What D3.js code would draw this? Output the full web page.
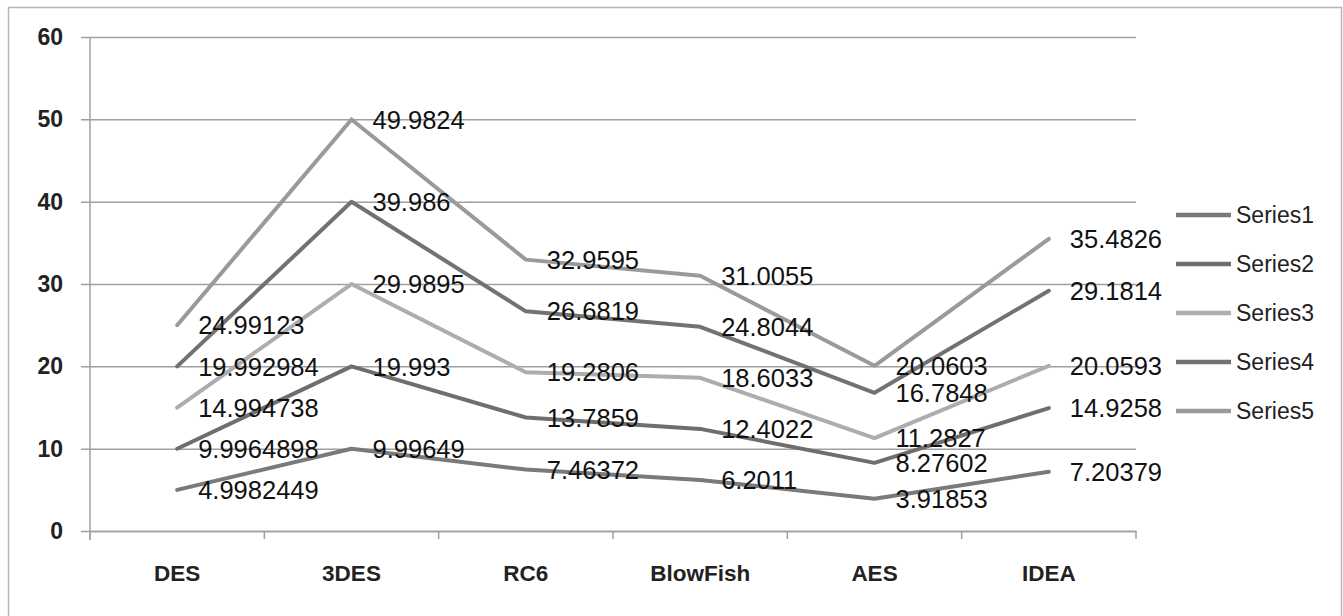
<!DOCTYPE html>
<html>
<head>
<meta charset="utf-8">
<script src="https://cdn.jsdelivr.net/npm/d3@7"></script>
<style>
  html, body { margin: 0; padding: 0; background: #fff; }
  svg { display: block; }
</style>
</head>
<body>
<svg id="chart" width="1343" height="616"></svg>
<script>
const categories = ["DES", "3DES", "RC6", "BlowFish", "AES", "IDEA"];
const seriesNames = ["Series1", "Series2", "Series3", "Series4", "Series5"];
const series1 = [4.9982449, 9.99649, 7.46372, 6.2011, 3.91853, 7.20379];
const series2 = [9.9964898, 19.993, 13.7859, 12.4022, 8.27602, 14.9258];
const series3 = [14.994738, 29.9895, 19.2806, 18.6033, 11.2827, 20.0593];
const series4 = [19.992984, 39.986, 26.6819, 24.8044, 16.7848, 29.1814];
const series5 = [24.99123, 49.9824, 32.9595, 31.0055, 20.0603, 35.4826];
const labels1 = ["4.9982449", "9.99649", "7.46372", "6.2011", "3.91853", "7.20379"];
const labels2 = ["9.9964898", "19.993", "13.7859", "12.4022", "8.27602", "14.9258"];
const labels3 = ["14.994738", "29.9895", "19.2806", "18.6033", "11.2827", "20.0593"];
const labels4 = ["19.992984", "39.986", "26.6819", "24.8044", "16.7848", "29.1814"];
const labels5 = ["24.99123", "49.9824", "32.9595", "31.0055", "20.0603", "35.4826"];
const yTicks = [0, 10, 20, 30, 40, 50, 60];

(function () {
const seriesValues = [series1, series2, series3, series4, series5];
const seriesLabels = [labels1, labels2, labels3, labels4, labels5];
const colors = ["#7a7a7a", "#6e6e6e", "#adadad", "#727272", "#9a9a9a"];

const svg = d3.select("#chart");
const pLeft = 90, pRight = 1136, pTop = 37, pBottom = 531;

// outer border
svg.append("rect").attr("x", 8.5).attr("y", 7.5).attr("width", 1333).attr("height", 620)
  .attr("fill", "none").attr("stroke", "#b5b5b5").attr("stroke-width", 1.5);

const x = d3.scaleBand().domain(categories).range([pLeft, pRight]).padding(0);
const y = d3.scaleLinear().domain([0, 60]).range([pBottom, pTop]);

// gridlines + y axis
const yAxis = d3.axisLeft(y).tickValues(yTicks).tickSize(-(pRight - pLeft)).tickPadding(18);
const gy = svg.append("g").attr("transform", `translate(${pLeft},0)`).call(yAxis);
gy.select(".domain").remove();
gy.selectAll(".tick line").attr("stroke", "#a0a0a0").attr("stroke-width", 1.5).attr("x1", -9);
gy.selectAll(".tick text").attr("font-family", "Liberation Sans, Arial, sans-serif")
  .attr("font-size", 23).attr("font-weight", "bold").attr("fill", "#222").attr("x", -27);

// y axis line
svg.append("line").attr("x1", pLeft).attr("x2", pLeft).attr("y1", pTop).attr("y2", pBottom + 9)
  .attr("stroke", "#a0a0a0").attr("stroke-width", 1.5);

// x axis
const xAxis = d3.axisBottom(x).tickSize(0).tickPadding(34);
const gx = svg.append("g").attr("transform", `translate(0,${pBottom})`).call(xAxis);
gx.select(".domain").attr("stroke", "#a0a0a0").attr("stroke-width", 1.5);
gx.selectAll(".tick text").attr("font-family", "Liberation Sans, Arial, sans-serif")
  .attr("font-size", 22.5).attr("font-weight", "bold").attr("fill", "#222");
// x boundary ticks
const boundaries = categories.map(c => x(c)).concat([x(categories[categories.length - 1]) + x.bandwidth()]);
svg.append("g").selectAll("line").data(boundaries).join("line")
  .attr("x1", d => d).attr("x2", d => d).attr("y1", pBottom).attr("y2", pBottom + 8)
  .attr("stroke", "#a0a0a0").attr("stroke-width", 1.5);

const cx = c => x(c) + x.bandwidth() / 2;
const line = d3.line().x((d, i) => cx(categories[i])).y(d => y(d));

seriesValues.forEach((vals, si) => {
  svg.append("path").datum(vals).attr("d", line).attr("fill", "none")
    .attr("stroke", colors[si]).attr("stroke-width", 4).attr("stroke-linejoin", "round")
    .attr("stroke-linecap", "round");
});

seriesValues.forEach((vals, si) => {
  svg.append("g").selectAll("text").data(vals).join("text")
    .attr("x", (d, i) => cx(categories[i]) + 21)
    .attr("y", d => y(d))
    .attr("dy", "0.36em")
    .attr("font-family", "Liberation Sans, Arial, sans-serif")
    .attr("font-size", 25.5).attr("fill", "#111")
    .text((d, i) => seriesLabels[si][i]);
});

// legend
const lg = svg.append("g");
seriesNames.forEach((name, i) => {
  const ly = 215 + i * 49;
  lg.append("line").attr("x1", 1176).attr("x2", 1231).attr("y1", ly).attr("y2", ly)
    .attr("stroke", colors[i]).attr("stroke-width", 4.5);
  lg.append("text").attr("x", 1236).attr("y", ly).attr("dy", "0.36em")
    .attr("font-family", "Liberation Sans, Arial, sans-serif").attr("font-size", 23)
    .attr("fill", "#222").text(name);
});
})();
</script>
</body>
</html>
